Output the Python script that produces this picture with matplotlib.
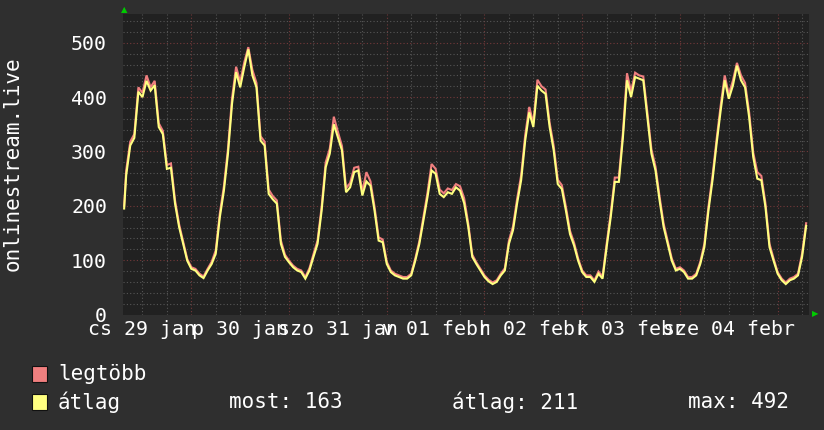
import matplotlib
matplotlib.use("Agg")
import matplotlib.pyplot as plt
from matplotlib.patches import Rectangle

# ---- data (hours since Jan 29 00:00) ----
hours = [7.5] + list(range(8, 176))
avg_vals = [195,
    256, 311, 325, 410, 400, 430, 412, 422, 345, 332, 268, 270, 204, 161, 130, 99,
    84, 81, 72, 67, 81, 93, 112, 179, 228, 296, 388, 446, 418, 455, 488, 440,
    418, 320, 311, 222, 212, 204, 130, 106, 96, 87, 81, 78, 66, 81, 106, 130,
    191, 271, 296, 350, 326, 302, 225, 234, 262, 265, 219, 245, 237, 191, 136, 133,
    93, 78, 72, 69, 66, 66, 72, 99, 130, 173, 216, 265, 259, 222, 216, 225,
    222, 234, 228, 205, 162, 106, 93, 81, 69, 61, 56, 60, 72, 81, 130, 155,
    204, 247, 320, 372, 345, 421, 412, 406, 345, 302, 240, 231, 191, 148, 127, 99,
    78, 69, 69, 60, 75, 66, 124, 179, 244, 244, 326, 431, 400, 437, 434, 431,
    363, 296, 265, 210, 161, 130, 99, 81, 84, 78, 66, 66, 72, 93, 124, 191,
    247, 314, 375, 431, 397, 421, 458, 431, 418, 363, 290, 250, 247, 198, 124, 99,
    75, 63, 56, 63, 66, 72, 106, 163]
max_vals = [200,
    265, 318, 332, 418, 408, 440, 418, 430, 352, 338, 275, 278, 210, 166, 134, 102,
    87, 84, 75, 70, 84, 97, 118, 186, 236, 305, 398, 456, 428, 464, 492, 450,
    426, 328, 318, 230, 218, 210, 136, 110, 99, 90, 84, 81, 69, 85, 111, 136,
    198, 280, 305, 364, 336, 310, 232, 242, 270, 272, 226, 262, 245, 198, 142, 138,
    97, 81, 75, 72, 69, 69, 75, 103, 135, 180, 224, 277, 268, 230, 223, 232,
    229, 240, 236, 214, 168, 110, 96, 84, 72, 64, 59, 63, 75, 85, 136, 162,
    212, 256, 330, 382, 352, 432, 420, 414, 353, 310, 248, 238, 198, 154, 132, 103,
    81, 72, 72, 63, 79, 70, 130, 186, 252, 252, 335, 444, 410, 445, 440, 438,
    372, 304, 272, 217, 167, 135, 103, 84, 87, 81, 69, 69, 75, 97, 130, 198,
    255, 322, 384, 440, 405, 430, 463, 440, 426, 372, 298, 262, 255, 205, 130, 103,
    78, 66, 59, 66, 69, 75, 112, 168]

day_ticks = [12, 36, 60, 84, 108, 132, 156]
day_labels = ["cs 29 jan", "p 30 jan", "szo 31 jan", "v 01 febr",
              "h 02 febr", "k 03 febr", "sze 04 febr"]
y_ticks = [0, 100, 200, 300, 400, 500]
y_label = "onlinestream.live"
legend_names = ["legtöbb", "átlag"]
stats_labels = ["most: 163", "átlag: 211", "max: 492"]

# ---- styling ----
W, H = 824, 430
BG = "#2f2f2f"
PLOT_BG = "#212121"
TXT = "#ffffff"
RED = "#f07f7f"
YEL = "#ffff80"
FONT = "DejaVu Sans Mono"

fig = plt.figure(figsize=(W / 100, H / 100), dpi=100, facecolor=BG)
left, right, top, bottom = 123, 809, 14, 314.5
ax = fig.add_axes([left / W, 1 - bottom / H, (right - left) / W, (bottom - top) / H])
ax.set_facecolor(PLOT_BG)
x0, x1 = 7.22, 175.7
ax.set_xlim(x0, x1)
ax.set_ylim(0, 553)

# grid
for g in range(0, 180, 6):
    if x0 < g < x1:
        major = g % 24 == 0
        ax.axvline(g, color="#74393a" if major else "#565656", lw=0.8,
                   ls=(0, (1, 2)), zorder=1)
for g in range(20, 560, 20):
    major = g % 100 == 0
    ax.axhline(g, color="#74393a" if major else "#565656", lw=0.8,
               ls=(0, (1, 2)), zorder=1)

ax.plot(hours, max_vals, color=RED, lw=1.5, zorder=3, solid_joinstyle="miter")
ax.plot(hours, avg_vals, color=YEL, lw=1.5, zorder=4, solid_joinstyle="miter")

for s in ax.spines.values():
    s.set_visible(False)
ax.set_xticks(day_ticks)
ax.set_xticklabels(day_labels, fontfamily=FONT, fontsize=14.3, color=TXT)
ax.set_yticks(y_ticks)
ax.set_yticklabels([str(v) for v in y_ticks], fontfamily=FONT, fontsize=14.3, color=TXT)
ax.tick_params(axis="both", length=0)
ax.tick_params(axis="y", pad=11.5)
ax.tick_params(axis="x", pad=4)

# arrows
fig.text(124 / W, 1 - 10 / H, "▲", color="#00cc00", fontsize=6, ha="center", va="center")
fig.text(815 / W, 1 - 314 / H, "▶", color="#00cc00", fontsize=6, ha="center", va="center")

fig.text(13 / W, 1 - 164 / H, y_label, rotation=90, ha="center", va="center",
         fontfamily=FONT, fontsize=15, color=TXT)

# legend
for i, (name, col) in enumerate(zip(legend_names, [RED, YEL])):
    yc = 373.5 + i * 28.5
    fig.patches.append(Rectangle((32 / W, 1 - (yc + 8) / H), 15 / W, 16 / H,
                                 transform=fig.transFigure, facecolor=col,
                                 edgecolor="#111111", lw=0.8))
    fig.text(58 / W, 1 - yc / H, name, ha="left", va="center",
             fontfamily=FONT, fontsize=15, color=TXT)
for xs, lab in zip([229, 452, 688], stats_labels):
    fig.text(xs / W, 1 - 402 / H, lab, ha="left", va="center",
             fontfamily=FONT, fontsize=15, color=TXT)

fig.savefig("out.png", dpi=100, facecolor=BG)
